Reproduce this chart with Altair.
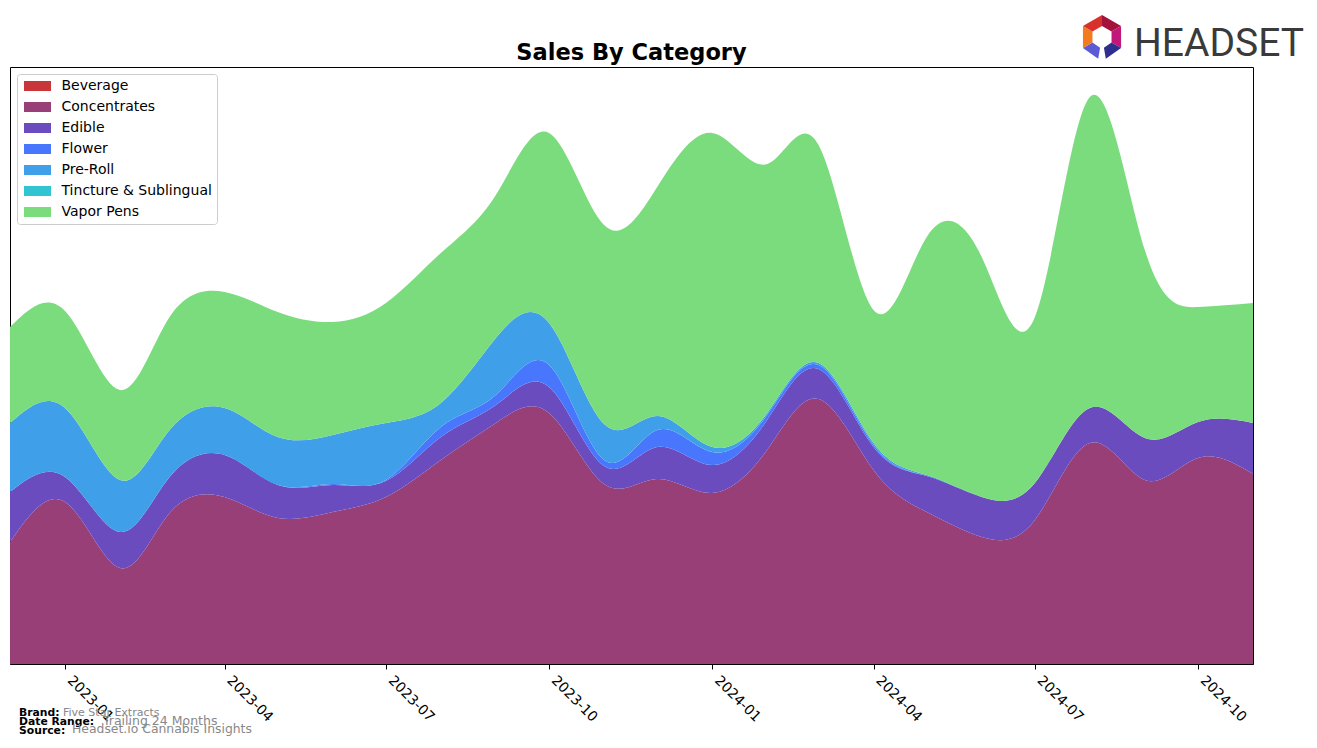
import altair as alt
import pandas as pd
import math

months = [
    "2022-12-01", "2023-01-01", "2023-02-01", "2023-03-01", "2023-04-01", "2023-05-01",
    "2023-06-01", "2023-07-01", "2023-08-01", "2023-09-01", "2023-10-01", "2023-11-01",
    "2023-12-01", "2024-01-01", "2024-02-01", "2024-03-01", "2024-04-01", "2024-05-01",
    "2024-06-01", "2024-07-01", "2024-08-01", "2024-09-01", "2024-10-01", "2024-11-01",
]
categories = ["Beverage", "Concentrates", "Edible", "Flower", "Pre-Roll",
              "Tincture & Sublingual", "Vapor Pens"]
colors = ["#c8363a", "#973f76", "#6b4cbf", "#4876fd", "#3f9fe8", "#33c4d4", "#7bdc7d"]

beverage = [0, 0, 0, 0, 0, 0, 0, 0, 0, 0, 0, 0, 0, 0, 0, 0, 0, 0, 0, 0, 0, 0, 0, 0]
concentrates = [122, 162, 96, 151, 167, 146, 152, 167, 204, 241, 251, 180,
                185, 171, 214, 265, 194, 152, 127, 144, 221, 184, 206, 190]
edible = [50, 25, 36, 36, 42, 33, 27, 16, 23, 18, 26, 18,
          32, 28, 30, 30, 23, 36, 40, 37, 35, 42, 36, 51]
flower = [0, 0, 0, 0, 0, 0, 1, 1, 10, 10, 22, 6,
          17, 13, 5, 4, 2, 0, 0, 0, 0, 0, 0, 0]
pre_roll = [69, 69, 52, 47, 47, 48, 49, 57, 24, 57, 42, 36,
            14, 5, 2, 2, 2, 1, 0, 0, 0, 0, 0, 0]
tincture = [0, 0, 0, 0, 0, 0, 0, 0, 0, 0, 0, 0, 0, 0, 0, 0, 0, 0, 0, 0, 0, 0, 0, 0]
vapor_pens = [96, 97, 90, 113, 116, 125, 113, 120, 150, 143, 190, 199,
              229, 314, 249, 218, 133, 238, 240, 166, 311, 188, 115, 120]

tick_months = ["2023-01", "2023-04", "2023-07", "2023-10", "2024-01", "2024-04", "2024-07", "2024-10"]

series = [beverage, concentrates, edible, flower, pre_roll, tincture, vapor_pens]
rows = []
for idx, (cat, vals) in enumerate(zip(categories, series)):
    for m, v in zip(months, vals):
        rows.append({"date": m, "category": cat, "value": v, "order": idx})
df = pd.DataFrame(rows)


def dt(s):
    y, mo = s.split("-")[:2]
    return alt.DateTime(year=int(y), month=int(mo), date=1, utc=True)


W, H = 1243, 597

areas = alt.Chart(df).mark_area(interpolate="natural", opacity=1).encode(
    x=alt.X("date:T",
            scale=alt.Scale(type="utc", domain=[dt(months[0]), dt(months[-1])]),
            axis=alt.Axis(values=[dt(t) for t in tick_months], format="%Y-%m",
                          labelAngle=45, labelAlign="left", labelBaseline="top",
                          labelFontSize=14, labelFont="DejaVu Sans", labelColor="black",
                          labelPadding=4, labelOffset=9, tickSize=5, tickColor="black",
                          domainColor="black", grid=False, title=None, labelOverlap=False)),
    y=alt.Y("value:Q", stack="zero", scale=alt.Scale(domain=[0, 597], nice=False), axis=None),
    color=alt.Color("category:N",
                    scale=alt.Scale(domain=categories, range=colors),
                    legend=alt.Legend(title=None, orient="none", legendX=7, legendY=7,
                                      symbolType="M-2.7,-1L2.7,-1L2.7,1L-2.7,1Z",
                                      symbolSize=100, symbolStrokeWidth=0, symbolOpacity=1,
                                      symbolOffset=8.5,
                                      labelFontSize=14, labelFont="DejaVu Sans",
                                      labelColor="black", labelOffset=17, rowPadding=7,
                                      padding=5, strokeColor="#cccccc", fillColor="white",
                                      cornerRadius=3)),
    order=alt.Order("order:Q", sort="ascending"),
)

title = alt.Chart(pd.DataFrame({"t": ["Sales By Category"]})).mark_text(
    font="DejaVu Sans", fontSize=22.5, fontWeight="bold", color="black",
    align="center", baseline="middle"
).encode(x=alt.value(W / 2), y=alt.value(-14), text="t:N")

logo_text = alt.Chart(pd.DataFrame({"t": ["HEADSET"]})).mark_text(
    font="Roboto", fontSize=39, color="#3a3a3a",
    align="left", baseline="alphabetic"
).encode(x=alt.value(1124), y=alt.value(-11), text="t:N")


def seg(a0, a1, R=1.0, r=0.5):
    p = []
    for a in (a0, a1):
        p.append((R * math.cos(math.radians(a)), -R * math.sin(math.radians(a))))
    for a in (a1, a0):
        p.append((r * math.cos(math.radians(a)), -r * math.sin(math.radians(a))))
    return "M" + "L".join(f"{x:.3f},{y:.3f}" for x, y in p) + "Z"


icon_shapes = [seg(90, 30), seg(30, -30), seg(-30, -80), seg(-100, -150), seg(-150, -210), seg(150, 90)]
icon_colors = ["#a3123a", "#c2177a", "#2e2e8f", "#5b5bd6", "#f47a20", "#d9302c"]
icon_layers = []
for shp, col in zip(icon_shapes, icon_colors):
    icon_layers.append(
        alt.Chart(pd.DataFrame({"k": [0]})).mark_point(
            shape=shp, filled=True, size=44 * 44, color=col, opacity=1, strokeWidth=0
        ).encode(x=alt.value(1092), y=alt.value(-30))
    )

foot_labels = ["Brand:", "Date Range:", "Source:"]
foot_values = ["Five Star Extracts", "Trailing 24 Months", "Headset.io Cannabis Insights"]
foot_layers = []
label_y = [649, 658, 667]
value_x = [53, 93, 62]
value_y = [649, 658, 666]
value_size = [11, 12.5, 12.4]
for lab, val, ly, vx, vy, vs in zip(foot_labels, foot_values, label_y, value_x, value_y, value_size):
    foot_layers.append(alt.Chart(pd.DataFrame({"t": [lab]})).mark_text(
        font="DejaVu Sans", fontSize=10.8, fontWeight="bold", color="black", align="left",
        baseline="alphabetic").encode(x=alt.value(9), y=alt.value(ly), text="t:N"))
    foot_layers.append(alt.Chart(pd.DataFrame({"t": [val]})).mark_text(
        font="DejaVu Sans", fontSize=vs, color="#888888", align="left",
        baseline="alphabetic").encode(x=alt.value(vx), y=alt.value(vy), text="t:N"))

chart = alt.layer(areas, title, logo_text, *icon_layers, *foot_layers).properties(
    width=W, height=H,
    background="white",
    autosize=alt.AutoSizeParams(type="none"),
    padding={"left": 10, "top": 67, "right": 64, "bottom": 84},
).configure_view(stroke="black", strokeWidth=1)

chart.save("out.html", embed_options={"renderer": "svg", "actions": False})
